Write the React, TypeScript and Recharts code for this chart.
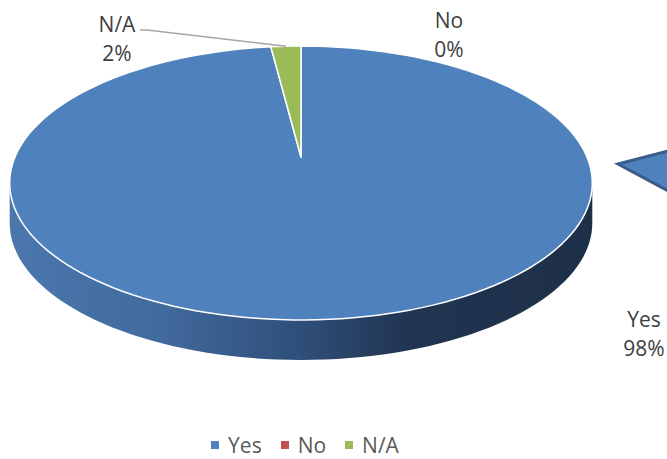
import { PieChart, Pie, Cell, Legend, Customized } from "recharts"

const categories = ["Yes", "No", "N/A"]
const shares = [98, 0, 2]
const sliceColors = ["#4f81bd", "#c0504d", "#9bbb59"]

const data = categories.map((name, i) => ({ name, value: shares[i] }))

const FONT = "'Open Sans', 'Noto Sans', sans-serif"
const TILT = 132 / 286
const PERSP = 0.19
const DEPTH = 40
const RAD = Math.PI / 180
// angles where the rim turns (silhouette of the side wall)
const EDGE = Math.asin(PERSP) / RAD
const SIDE_FROM = -180 + EDGE
const SIDE_TO = -EDGE

// label offsets from the pie centre (Yes, No, N/A)
const labelOffsets = [
  { dx: 343, dy: 170 },
  { dx: 148, dy: -129 },
  { dx: -184, dy: -125 },
]

function project(cx: number, cy: number, r: number, angle: number, drop = 0) {
  const u = Math.cos(angle * RAD)
  const v = Math.sin(angle * RAD)
  const w = 1 + PERSP * v
  return [cx + (r * u) / w, cy - (r * TILT * v) / w + drop]
}

function arcPoints(cx: number, cy: number, r: number, a0: number, a1: number, drop = 0) {
  const steps = Math.max(2, Math.ceil(Math.abs(a1 - a0) / 2))
  const pts: number[][] = []
  for (let i = 0; i <= steps; i++) {
    pts.push(project(cx, cy, r, a0 + ((a1 - a0) * i) / steps, drop))
  }
  return pts
}

const toPath = (pts: number[][]) =>
  pts.map((p, i) => `${i ? "L" : "M"}${p[0].toFixed(2)},${p[1].toFixed(2)}`).join(" ") + " Z"

function Slice3D(props: any) {
  const { cx, cy, outerRadius, startAngle, endAngle, fill } = props
  const hi = Math.max(startAngle, endAngle)
  const lo = Math.min(startAngle, endAngle)
  if (hi - lo <= 0) return <g />

  const sLo = Math.max(lo, SIDE_FROM)
  const sHi = Math.min(hi, SIDE_TO)
  let side = null
  if (sLo < sHi) {
    const pts = [
      ...arcPoints(cx, cy, outerRadius, sLo, sHi),
      ...arcPoints(cx, cy, outerRadius, sHi, sLo, DEPTH),
    ]
    side = <path d={toPath(pts)} fill="url(#sideShade)" />
  }

  const top = [[cx, cy], ...arcPoints(cx, cy, outerRadius, startAngle, endAngle)]

  return (
    <g>
      <defs>
        <linearGradient id="sideShade" x1="0" y1="0" x2="1" y2="0">
          <stop offset="0%" stopColor="#4b77ad" />
          <stop offset="25%" stopColor="#426b9e" />
          <stop offset="50%" stopColor="#2f4e79" />
          <stop offset="68%" stopColor="#213551" />
          <stop offset="100%" stopColor="#1e2f48" />
        </linearGradient>
      </defs>
      {side}
      <path d={toPath(top)} fill={fill} stroke="#ffffff" strokeWidth={1.5} strokeLinejoin="round" />
    </g>
  )
}

function renderLabel(props: any) {
  const { cx, cy, outerRadius, midAngle, index, name, percent } = props
  const off = labelOffsets[index]
  const x = cx + off.dx
  const y = cy + off.dy
  const pct = `${Math.round(percent * 100)}%`
  let leader = null
  if (name === "N/A") {
    const rim = project(cx, cy, outerRadius, midAngle)
    leader = (
      <polyline
        points={`${x + 23},${y - 2} ${x + 30},${y - 2} ${rim[0]},${rim[1]}`}
        fill="none"
        stroke="#a6a6a6"
        strokeWidth={1.5}
      />
    )
  }
  return (
    <g key={`lbl-${index}`}>
      {leader}
      <text x={x} y={y} textAnchor="middle" fill="#404040" fontSize={21} fontFamily={FONT}>
        <tspan x={x} dy={0}>{name}</tspan>
        <tspan x={x} dy={29}>{pct}</tspan>
      </text>
    </g>
  )
}

function CalloutArrow() {
  return (
    <polygon
      points="618,164 672,150 672,193"
      fill="#4f81bd"
      stroke="#385d8a"
      strokeWidth={3}
      strokeLinejoin="miter"
    />
  )
}

function LegendRow({ payload }: any) {
  const items = [...(payload || [])].sort(
    (a: any, b: any) => categories.indexOf(a.value) - categories.indexOf(b.value)
  )
  return (
    <div
      style={{
        display: "flex",
        justifyContent: "center",
        paddingRight: 38,
        fontFamily: FONT,
        fontSize: 21,
        color: "#595959",
      }}
    >
      {items.map((entry: any) => (
        <span key={entry.value} style={{ display: "flex", alignItems: "center", marginRight: 19 }}>
          <span style={{ width: 8, height: 8, background: entry.color, marginRight: 9 }} />
          {entry.value}
        </span>
      ))}
    </div>
  )
}

export default function App() {
  return (
    <div style={{ position: "absolute", left: 0, top: 0, background: "#fff" }}>
      <PieChart width={667} height={459} margin={{ top: 0, right: 0, bottom: 0, left: 0 }}>
        <Pie
          data={data}
          dataKey="value"
          nameKey="name"
          cx={301}
          cy={157}
          outerRadius={286}
          startAngle={90}
          endAngle={-270}
          shape={Slice3D}
          label={renderLabel}
          labelLine={false}
          isAnimationActive={false}
        >
          {data.map((entry, index) => (
            <Cell key={`cell-${entry.name}`} fill={sliceColors[index]} />
          ))}
        </Pie>
        <Customized component={CalloutArrow} />
        <Legend content={<LegendRow />} wrapperStyle={{ top: 431, left: 0, width: 667 }} />
      </PieChart>
    </div>
  )
}
